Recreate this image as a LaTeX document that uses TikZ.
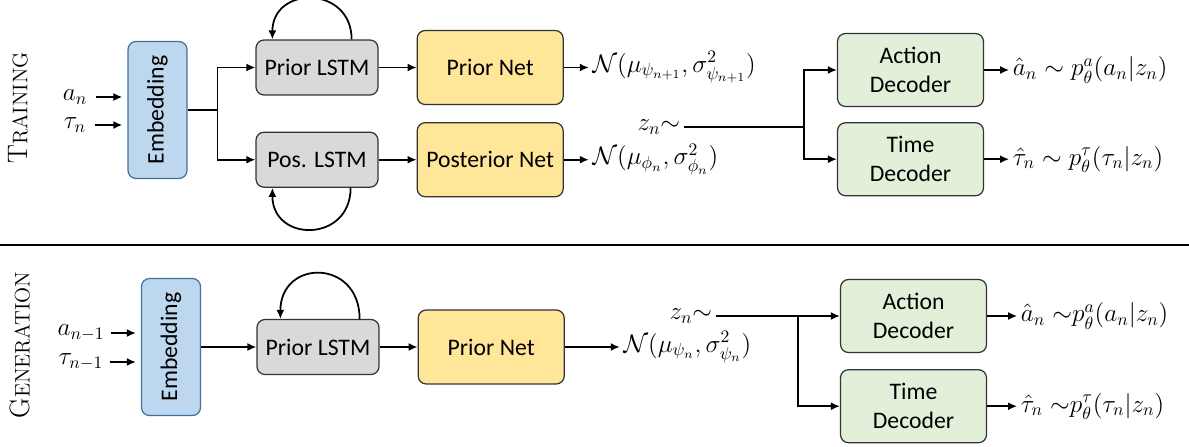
\documentclass[tikz,border=0pt]{standalone}
\usepackage{fontspec}
\setsansfont{Carlito}
\usepackage{amsmath}
\usepackage{amssymb}
\usetikzlibrary{positioning,arrows.meta}
\definecolor{embfill}{RGB}{189,215,238}
\definecolor{embdraw}{RGB}{65,113,156}
\definecolor{lstmfill}{RGB}{217,217,217}
\definecolor{netfill}{RGB}{255,230,153}
\definecolor{decfill}{RGB}{226,240,217}
\tikzset{node distance=0.76cm, >={Latex[length=1.8mm,width=1.6mm]},
  box/.style={draw=black!80, line width=0.7pt, rounded corners=0.16cm, align=center, inner sep=0pt, font=\sffamily\fontsize{13.5}{16.5}\selectfont},
  embed/.style={box, fill=embfill, draw=embdraw, minimum width=1.18cm, minimum height=2.74cm},
  lstm/.style={box, fill=lstmfill, minimum width=2.44cm, minimum height=1.1cm},
  net/.style={box, fill=netfill, minimum width=2.92cm, minimum height=1.48cm},
  dec/.style={box, fill=decfill, minimum width=2.92cm, minimum height=1.46cm},
  lbl/.style={inner sep=2pt, font=\fontsize{14.5}{16}\selectfont},
  wire/.style={line width=1pt}}

\begin{document}
\begin{tikzpicture}[x=0.02cm,y=-0.02cm]
\useasboundingbox (0,0) rectangle (1189,446);

% training
\node[rotate=90] (T) at (18,108) {\fontsize{16}{16}\selectfont T\fontsize{12}{16}\selectfont RAINING};
\node[embed] (E1) at (157.5,110) {\rotatebox{90}{Embedding}};
\node[lstm] (PL1) at (317,67.5) {Prior LSTM};
\node[lstm] (QL1) [below=0.72cm of PL1] {Pos. LSTM};
\node[net] (PN1) [right=of PL1] {Prior Net};
\node[net] (QN1) [right=of QL1] {Posterior Net};
\node[dec] (AD1) at (910.5,70) {Action\\Decoder};
\node[dec] (TD1) [below=0.3cm of AD1] {Time\\Decoder};

\node[lbl] (a1) at (75,97) {$a_n$};
\node[lbl] (t1) at (75,125) {$\tau_n$};
\node[lbl] (N1) [right=0.5cm of PN1] {$\mathcal{N}(\mu_{\psi_{n+1}},\sigma^2_{\psi_{n+1}})$};
\node[lbl] (N2) [right=0.5cm of QN1] {$\mathcal{N}(\mu_{\phi_n},\sigma^2_{\phi_n})$};
\node[lbl, anchor=east] (z1) at (684,127) {$z_n{\sim}$};
\node[lbl] (A1) [right=0.5cm of AD1] {$\hat{a}_n\sim p_\theta^a(a_n|z_n)$};
\node[lbl] (S1) [right=0.5cm of TD1] {$\hat{\tau}_n\sim p_\theta^\tau(\tau_n|z_n)$};

\draw[wire,->,shorten <=0.1cm,shorten >=0.1cm] (a1) -- (a1 -| E1.west);
\draw[wire,->,shorten <=0.1cm,shorten >=0.1cm] (t1) -- (t1 -| E1.west);
\draw[wire] (E1.east) -- ++(30,0) coordinate (b1);
\draw[wire,->] (b1) |- (PL1.west);
\draw[wire,->] (b1) |- (QL1.west);
\draw[wire,->]
  (PL1) edge (PN1)
  (QL1) edge (QN1)
  (PN1) edge (N1)
  (QN1) edge (N2)
  (AD1) edge (A1)
  (TD1) edge (S1);
\draw[wire,->] ([xshift=-0.54cm]PL1.north east) to[out=90,in=90,looseness=1.75] ([xshift=0.34cm]PL1.north west);
\draw[wire,->] ([xshift=-0.56cm]QL1.south east) to[out=-90,in=-90,looseness=1.8] ([xshift=0.34cm]QL1.south west);
\coordinate (b2) at (804,127);
\draw[wire] (z1.east) -- (b2);
\draw[wire,->] (b2) |- (AD1.west);
\draw[wire,->] (b2) |- (TD1.west);

\draw[line width=0.8pt] (0,245) -- (1189,245);

% generation
\node[rotate=90] (G) at (20,345) {\fontsize{16}{16}\selectfont G\fontsize{12}{16}\selectfont ENERATION};
\node[embed] (E2) at (171,347) {\rotatebox{90}{Embedding}};
\node[lstm] (PL2) at (318,347) {Prior LSTM};
\node[net] (PN2) [right=of PL2] {Prior Net};
\node[dec] (AD2) at (913.5,316) {Action\\Decoder};
\node[dec] (TD2) [below=0.32cm of AD2] {Time\\Decoder};

\node[lbl] (a2) at (81,333) {$a_{n-1}$};
\node[lbl] (t2) at (81,362) {$\tau_{n-1}$};
\node[lbl] (N3) [right=1.1cm of PN2] {$\mathcal{N}(\mu_{\psi_n},\sigma^2_{\psi_n})$};
\node[lbl, anchor=east] (z2) at (716,316) {$z_n{\sim}$};
\node[lbl] (A2) [right=0.6cm of AD2] {$\hat{a}_n\;{\sim}p_\theta^a(a_n|z_n)$};
\node[lbl] (S2) [right=0.6cm of TD2] {$\hat{\tau}_n\;{\sim}p_\theta^\tau(\tau_n|z_n)$};

\draw[wire,->,shorten <=0.05cm,shorten >=0.1cm] (a2) -- (a2 -| E2.west);
\draw[wire,->,shorten <=0.05cm,shorten >=0.1cm] (t2) -- (t2 -| E2.west);
\draw[wire,->]
  (E2) edge (PL2)
  (PL2) edge (PN2)
  (PN2) edge (N3)
  (AD2) edge (A2)
  (TD2) edge (S2);
\draw[wire,->] ([xshift=-0.4cm]PL2.north east) to[out=90,in=90,looseness=1.95] ([xshift=0.48cm]PL2.north west);
\coordinate (b3) at (798,316);
\draw[wire,->] (z2.east) -- (AD2.west);
\draw[wire,->] (b3) |- (TD2.west);
\end{tikzpicture}
\end{document}
